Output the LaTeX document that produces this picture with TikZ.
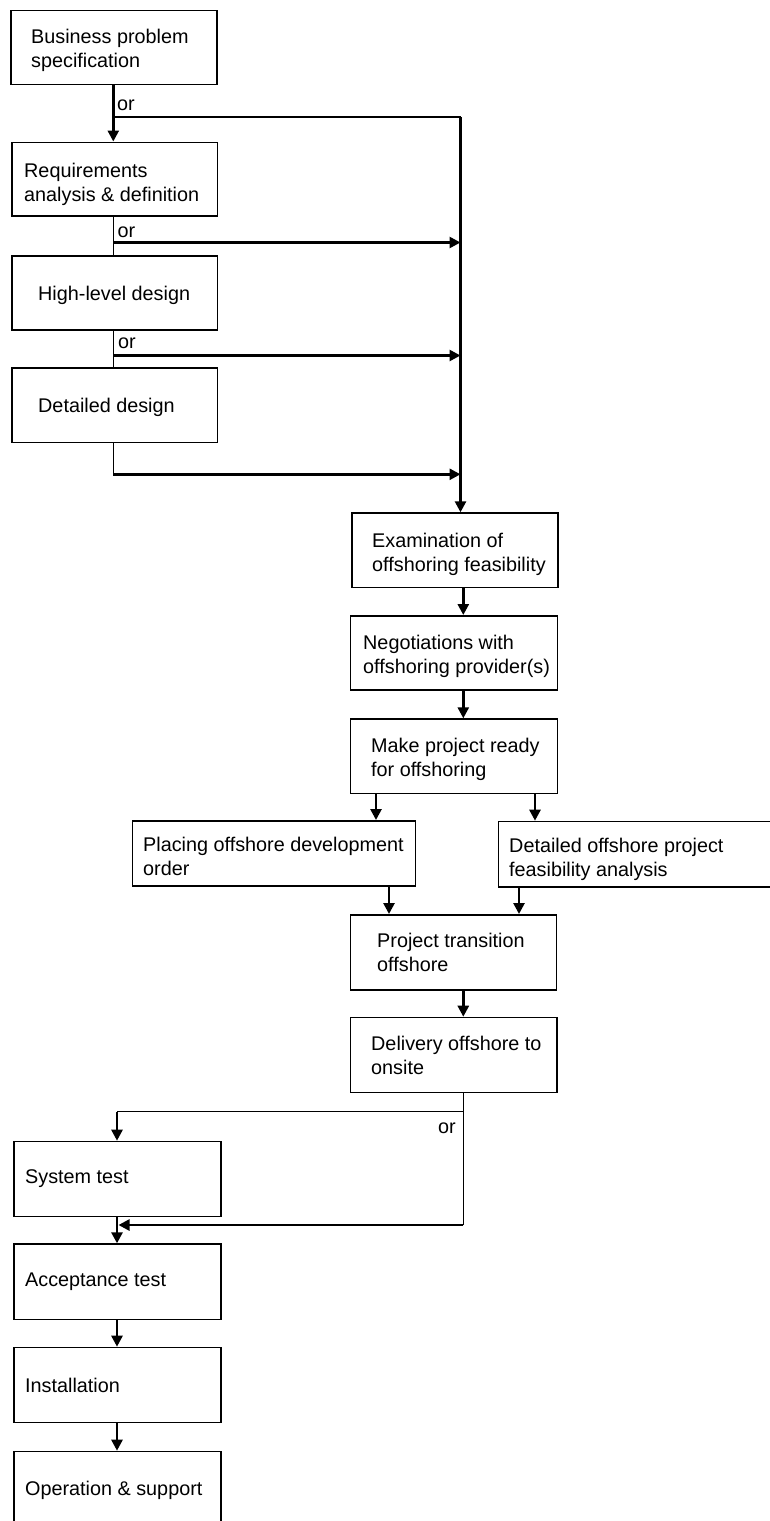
\documentclass[tikz,border=0pt]{standalone}
\usepackage{fontspec}
\setmainfont{Liberation Sans}
\usetikzlibrary{arrows.meta,calc}
\begin{document}
\begin{tikzpicture}[x=1pt,y=-1pt,
  box/.style={draw, line width=1.5pt, rectangle, inner sep=0pt, anchor=north west},
  lbl/.style={inner sep=0pt, anchor=north west, align=left, font=\fontsize{19.8}{24}\selectfont},
  orlbl/.style={inner sep=0pt, font=\fontsize{19.8}{24}\selectfont},
  thinline/.style={line width=1.1pt},
  tarr/.style={line width=2.6pt, -{Triangle[length=11pt,width=11pt]}}]
\useasboundingbox (0,0) rectangle (770,1521);

% boxes
\node[box, minimum width=206pt,   minimum height=74pt]   (b1)  at (10,9.5) {};
\node[box, minimum width=205.5pt, minimum height=73.5pt] (b2)  at (11,141.5) {};
\node[box, minimum width=205.5pt, minimum height=74.3pt] (b3)  at (11,255) {};
\node[box, minimum width=205.5pt, minimum height=74.7pt] (b4)  at (11,367) {};
\node[box, minimum width=206.3pt, minimum height=74.4pt] (b5)  at (351,512.3) {};
\node[box, minimum width=207pt,   minimum height=74.3pt] (b6)  at (349.5,615) {};
\node[box, minimum width=207pt,   minimum height=74.4pt] (b7)  at (349.5,718.3) {};
\node[box, minimum width=283pt,   minimum height=65pt]   (b8)  at (131.5,820) {};
\node[box, minimum width=280pt,   minimum height=65.3pt] (b9)  at (497.5,820.7) {};
\node[box, minimum width=206.2pt, minimum height=75pt]   (b10) at (349.5,914) {};
\node[box, minimum width=206.5pt, minimum height=75pt]   (b11) at (349.5,1016.7) {};
\node[box, minimum width=206.7pt, minimum height=75pt]   (b12) at (13.3,1140.7) {};
\node[box, minimum width=206.7pt, minimum height=75.4pt] (b13) at (13.3,1243.3) {};
\node[box, minimum width=206.7pt, minimum height=75pt]   (b14) at (13.3,1346.7) {};
\node[box, minimum width=206.7pt, minimum height=80pt]   (b15) at (13.3,1450.7) {};

% texts
\node[lbl] (t1)  at (31,29)     {Business problem\\specification};
\node[lbl] (t2)  at (24,162.5)  {Requirements\\analysis \& definition};
\node[lbl] (t3)  at (38,285.5)  {High-level design};
\node[lbl] (t4)  at (38,398)    {Detailed design};
\node[lbl] (t5)  at (372,533)   {Examination of\\offshoring feasibility};
\node[lbl] (t6)  at (363,635)   {Negotiations with\\offshoring provider(s)};
\node[lbl] (t7)  at (371,738)   {Make project ready\\for offshoring};
\node[lbl] (t8)  at (143,837)   {Placing offshore development\\order};
\node[lbl] (t9)  at (509,838)   {Detailed offshore project\\feasibility analysis};
\node[lbl] (t10) at (377,933)   {Project transition\\offshore};
\node[lbl] (t11) at (371,1036)  {Delivery offshore to\\onsite};
\node[lbl] (t12) at (25,1169)   {System test};
\node[lbl] (t13) at (25,1272.5) {Acceptance test};
\node[lbl] (t14) at (25,1378)   {Installation};
\node[lbl] (t15) at (25,1481)   {Operation \& support};

% or labels
\node[orlbl] (or1) at (126,105)   {or};
\node[orlbl] (or2) at (126.5,232) {or};
\node[orlbl] (or3) at (127,343)   {or};
\node[orlbl] (or4) at (447,1128)  {or};

% helper coordinates
\coordinate (xL) at (113.3,0);
\coordinate (xM) at (463.3,0);
\coordinate (xA) at (376,0);
\coordinate (xB) at (535,0);
\coordinate (xC) at (389,0);
\coordinate (xD) at (519,0);
\coordinate (xS) at (117,0);
\coordinate (bus) at (460.5,117);
\coordinate (j1) at (113.3,117);
\coordinate (j2) at (113.3,242.5);
\coordinate (j3) at (113.3,355.5);
\coordinate (j4) at (113.3,474.3);
\coordinate (k1) at (463.3,1111.7);
\coordinate (k2) at (117,1111.7);
\coordinate (k3) at (463.3,1225);
\coordinate (k4) at (118.5,1225);

% upper part
\draw[tarr] (b1.south -| xL) -- (b2.north -| xL);
\draw[thinline] (j1) -- (bus);
\draw[tarr] (bus) -- (bus |- b5.north);
\draw[thinline] (b2.south -| xL) -- (b3.north -| xL);
\draw[tarr] (j2) -- (bus |- j2);
\draw[thinline] (b3.south -| xL) -- (b4.north -| xL);
\draw[tarr] (j3) -- (bus |- j3);
\draw[thinline] (b4.south -| xL) -- (j4);
\draw[tarr] (j4) -- (bus |- j4);

% middle part
\draw[tarr] (b5.south -| xM) -- (b6.north -| xM);
\draw[tarr] (b6.south -| xM) -- (b7.north -| xM);
\draw[tarr] (b7.south -| xA) -- (b8.north -| xA);
\draw[tarr] (b7.south -| xB) -- (b9.north -| xB);
\draw[tarr] (b8.south -| xC) -- (b10.north -| xC);
\draw[tarr] (b9.south -| xD) -- (b10.north -| xD);
\draw[tarr] (b10.south -| xM) -- (b11.north -| xM);

% lower part
\draw[thinline] (b11.south -| xM) -- (k1) -- (k2);
\draw[tarr] (k2) -- (b12.north -| xS);
\draw[thinline] (k1) -- (k3);
\draw[tarr] (k3) -- (k4);
\draw[tarr] (b12.south -| xS) -- (b13.north -| xS);
\draw[tarr] (b13.south -| xS) -- (b14.north -| xS);
\draw[tarr] (b14.south -| xS) -- (b15.north -| xS);
\end{tikzpicture}
\end{document}
